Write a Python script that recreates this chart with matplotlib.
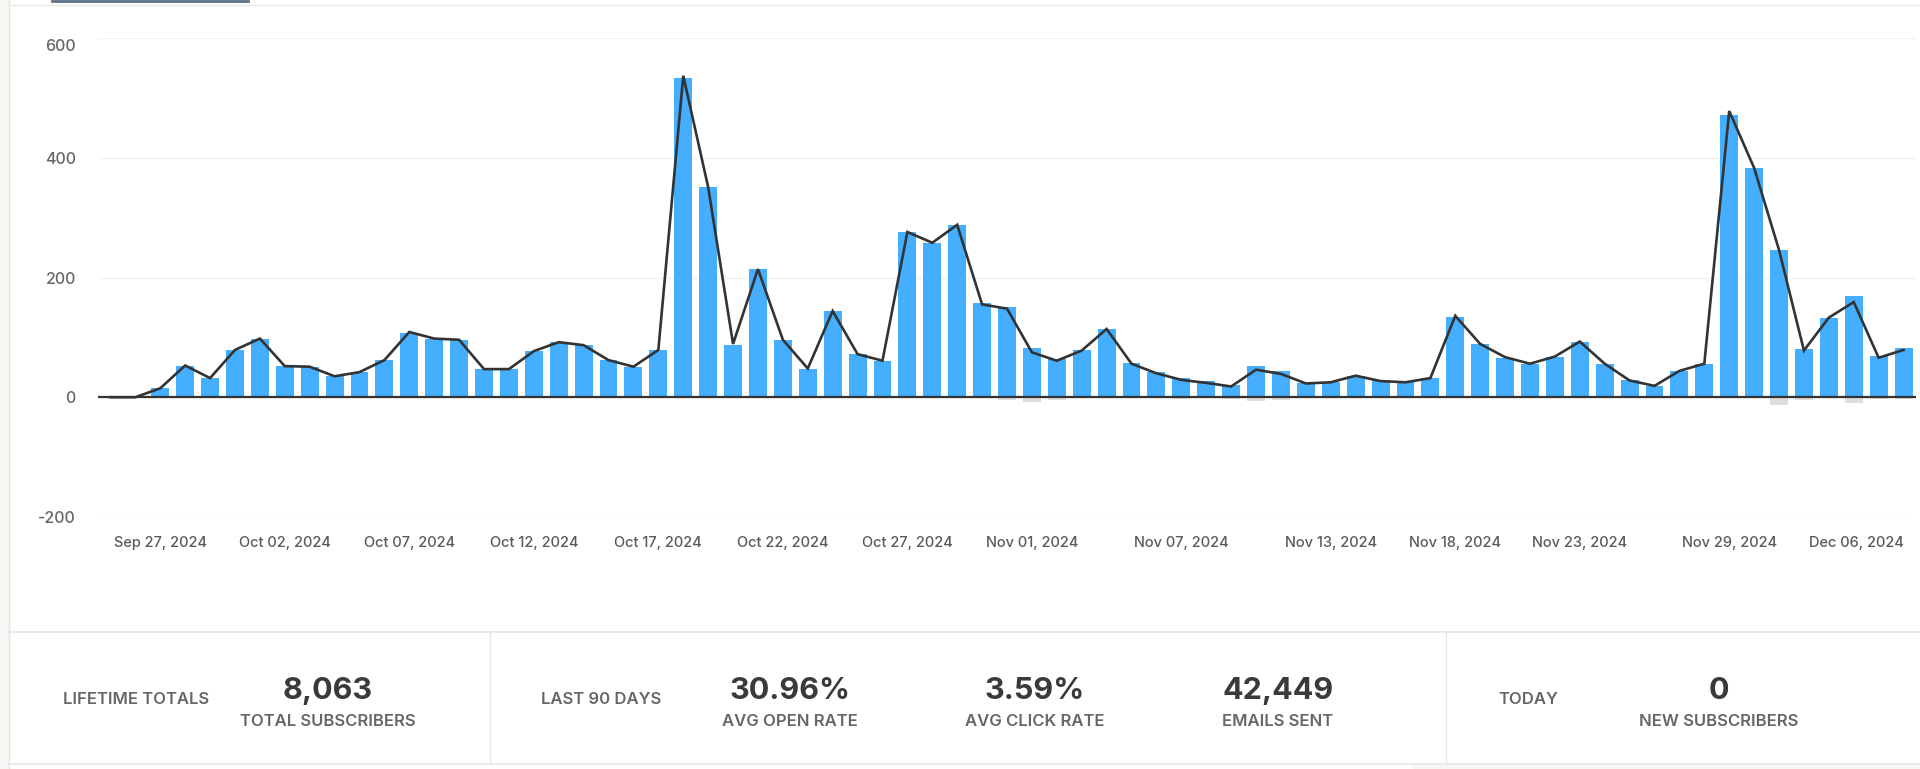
import matplotlib
matplotlib.use("Agg")
import matplotlib.pyplot as plt
import matplotlib.transforms as mtransforms
import numpy as np
import pandas as pd

plt.rcParams["font.family"] = ["Inter", "DejaVu Sans"]

# daily data, Sep 25 .. Dec 06 2024
dates = pd.date_range("2024-09-25", "2024-12-06", freq="D")
new_subs = [0, 0, 15, 53, 32, 79, 98, 52, 51, 35, 42, 62, 108, 98, 96, 47, 47, 77,
            92, 87, 62, 51, 79, 534, 351, 88, 214, 96, 48, 144, 72, 61, 276, 258,
            288, 157, 151, 83, 64, 79, 114, 58, 43, 32, 27, 21, 53, 44, 23, 26, 36,
            28, 25, 32, 134, 89, 66, 56, 68, 93, 56, 28, 19, 44, 56, 472, 383, 246,
            81, 133, 169, 69, 82]
unsubs = [0] * 35 + [-2, -4, -8, -5, 0, 0, 0, -2, -3, -2, -3, -7, -4] + [0] * 18 \
    + [-2, -13, -4, 0, -10, -3, -3]
net_subs = [0, 0, 15, 53, 32, 79, 98, 52, 51, 35, 42, 62, 109, 98, 96, 47, 47, 77,
            92, 87, 62, 51, 79, 537, 351, 89, 214, 96, 48, 144, 72, 61, 276, 258,
            288, 155, 148, 75, 61, 78, 114, 56, 40, 29, 24, 18, 46, 39, 23, 25, 36,
            27, 25, 32, 136, 89, 67, 56, 68, 93, 56, 28, 19, 44, 56, 478, 383, 246,
            78, 133, 159, 66, 79]
tick_dates = ["2024-09-27", "2024-10-02", "2024-10-07", "2024-10-12", "2024-10-17",
              "2024-10-22", "2024-10-27", "2024-11-01", "2024-11-07", "2024-11-13",
              "2024-11-18", "2024-11-23", "2024-11-29", "2024-12-06"]
y_ticks = [-200, 0, 200, 400, 600]

# summary panel
groups = ["LIFETIME TOTALS", "LAST 90 DAYS", "TODAY"]
stat_values = ["8,063", "30.96%", "3.59%", "42,449", "0"]
stat_labels = ["TOTAL SUBSCRIBERS", "AVG OPEN RATE", "AVG CLICK RATE", "EMAILS SENT",
               "NEW SUBSCRIBERS"]

W, H = 1920, 769
fig = plt.figure(figsize=(W / 100, H / 100), dpi=100)
fig.patch.set_facecolor("white")

# background layer in pixel coords (page chrome)
bg = fig.add_axes([0, 0, 1, 1])
bg.set_xlim(0, W)
bg.set_ylim(H, 0)
bg.axis("off")
bg.add_patch(plt.Rectangle((0, 0), 9, H, color="#f7f6f2", lw=0))
bg.plot([9, 9], [0, H], color="#e6e6e6", lw=1)
bg.plot([9, W], [4.5, 4.5], color="#e8e8e8", lw=1)
bg.plot([52, 248], [0.8, 0.8], color="#5c7286", lw=2)
bg.plot([9, W], [632, 632], color="#e6e6e6", lw=1.2)
bg.plot([9, W], [764, 764], color="#e6e6e6", lw=1.2)
bg.add_patch(plt.Rectangle((1413, 765), W - 1413, 4, color="#f7f6f2", lw=0))
for xd in [490, 1446]:
    bg.plot([xd, xd], [632, 764], color="#e6e6e6", lw=1)

# main chart
ax = fig.add_axes([98 / W, 1 - 517 / H, (1916 - 98) / W, (517 - 38) / H])
ax.set_facecolor("none")
x = np.arange(len(dates))
ax.bar(x, unsubs, width=0.72, color="#dedede", zorder=2)
ax.bar(x, new_subs, width=0.72, color="#45aeff", zorder=2)
ax.plot(x, net_subs, color="#333333", lw=1.9, zorder=3, solid_joinstyle="miter")
ax.axhline(0, color="#333333", lw=1.6, zorder=4)

ax.set_xlim(-0.5, len(dates) - 0.5)
ax.set_ylim(-200, 600)
ax.set_yticks(y_ticks)
ax.set_yticklabels([str(v) for v in y_ticks])
ax.grid(axis="y", color="#f2f2f2", lw=1, zorder=0)
ax.set_axisbelow(True)

tick_pos = [dates.get_loc(pd.Timestamp(d)) for d in tick_dates]
ax.set_xticks(tick_pos)
ax.set_xticklabels([pd.Timestamp(d).strftime("%b %d, %Y") for d in tick_dates])
ax.get_xticklabels()[-1].set_horizontalalignment("right")
ax.get_xticklabels()[-1].set_x(tick_pos[-1] + 0.5)
ax.tick_params(axis="x", length=0, pad=14, labelsize=10.5, labelcolor="#5a5a5a")
ax.tick_params(axis="y", length=0, pad=16, labelsize=11.5, labelcolor="#666666")
for lbl in ax.get_xticklabels() + ax.get_yticklabels():
    lbl.set_fontweight("medium")
# top label sits just under its gridline
top_lbl = ax.get_yticklabels()[-1]
top_lbl.set_transform(top_lbl.get_transform()
                      + mtransforms.ScaledTranslation(0, -7 / 100, fig.dpi_scale_trans))
for s in ax.spines.values():
    s.set_visible(False)

# summary texts
group_x = [136, 601, 1528]
for gx, g in zip(group_x, groups):
    bg.text(gx, 700, g, ha="center", va="center", fontsize=12,
            fontweight="semibold", color="#666666")
stat_x = [328, 790, 1035, 1278, 1719]
for sx, v, lab in zip(stat_x, stat_values, stat_labels):
    bg.text(sx, 691, v, ha="center", va="center", fontsize=22, fontweight="bold",
            color="#3a3a3a")
    bg.text(sx, 722, lab, ha="center", va="center", fontsize=12,
            fontweight="semibold", color="#666666")

fig.savefig("out.png", dpi=100)
